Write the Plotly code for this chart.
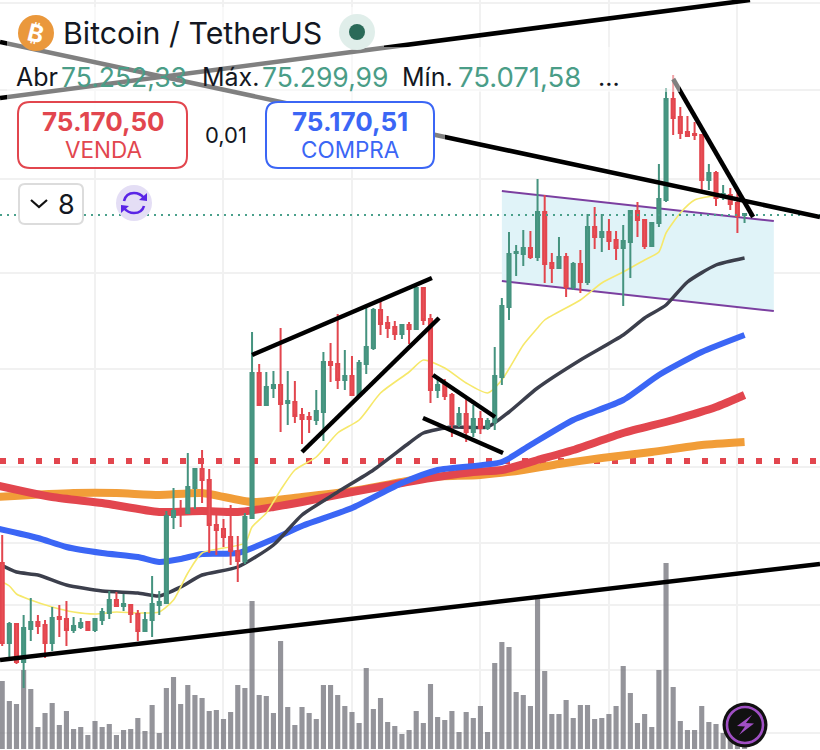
import plotly.graph_objects as go

# ---- data -------------------------------------------------------------
high = [71970,71100,71080,71170,71340,71170,71120,71250,71270,71310,
        71150,71140,71100,71140,71240,71410,71400,71380,71280,71220,
        71200,71560,71410,72210,72440,72320,72790,72630,72820,72630,
        72170,72130,72270,71960,72190,74000,73680,73600,73610,74040,
        73610,73510,73240,73200,73420,73800,73890,74180,73820,73760,
        73720,74250,74240,74320,74160,74110,74070,74100,74490,74440,
        74180,73520,73530,73390,73250,73360,73270,73210,73140,73850,
        74340,75000,74870,75020,75010,75530,75370,74790,74950,74790,
        74700,74820,75180,75250,75180,75130,75010,75070,75220,75300,
        75130,75090,75680,76440,76570,76250,76160,76100,75980,75680,
        75610,75470,75440,75420,75190]
low = [70860,70720,70680,70440,70910,70980,70740,70810,70950,70860,
       70990,71030,71020,71000,71070,71130,71250,71210,71090,70910,
       71010,70950,71170,71290,72030,72050,72180,72230,72290,71790,
       71770,71850,71670,71500,71680,72140,73260,73270,73340,73000,
       73070,73090,72880,72990,73070,72910,73500,73430,73420,73360,
       73360,73580,73820,73970,73940,73920,73930,73880,74020,74070,
       73290,73340,73320,72950,73050,72900,72950,72980,73020,73020,
       73470,74120,74560,74660,74730,74710,74490,74490,74640,74350,
       74420,74390,74470,74830,74800,74820,74720,74260,74540,74950,
       74830,74850,75050,75300,75970,75930,75950,75920,75410,75420,
       75260,75320,75220,74990,75090]
open_ = [71690,70890,71080,70700,71030,71100,71070,70890,71150,71130,
         71020,71050,71100,71020,71120,71190,71320,71260,71270,71180,
         71010,71120,71270,71290,72150,72210,72190,72440,72630,72520,
         72070,72030,71950,71810,71710,72140,73590,73270,73440,73470,
         73290,73300,73170,73150,73120,73200,73700,73680,73520,73560,
         73370,73680,73840,74220,74090,74050,73980,74070,74030,74440,
         74130,73420,73470,73370,73080,73180,73000,73130,73040,73100,
         73550,74250,74790,74780,74840,74750,75200,74690,74640,74750,
         74450,74680,74500,75050,74950,75000,74920,74840,74900,75210,
         75120,74860,75090,75320,76330,76150,76000,75980,75970,75520,
         75590,75360,75370,75290,75170]
close = [70890,71080,70700,71040,71100,71060,70890,71140,71130,71020,
         71060,71090,71020,71130,71200,71320,71260,71280,71180,71010,
         71120,71280,71300,72160,72210,72200,72450,72630,72520,72070,
         72020,71950,71810,71710,72150,73590,73270,73450,73470,73280,
         73310,73160,73130,73130,73210,73700,73670,73520,73560,73370,
         73690,73850,74220,74080,74040,73980,74070,74030,74440,74120,
         73420,73470,73360,73080,73180,73000,73130,73040,73110,73560,
         74260,74780,74800,74840,74750,75200,74680,74640,74750,74450,
         74680,74500,75050,74950,75000,74910,74840,74910,75210,75120,
         74860,75090,75330,76330,76140,75990,75960,75970,75520,75590,
         75340,75380,75280,75160,75180]
volume = [68,48,45,79,60,22,36,46,24,38,
          20,22,14,28,22,25,14,19,20,31,
          18,44,16,61,72,45,64,54,51,38,
          39,30,37,64,61,148,54,53,36,108,
          42,24,42,36,30,64,64,54,43,37,
          26,81,40,51,27,23,15,19,38,26,
          65,32,29,38,17,37,31,43,17,86,
          107,102,57,54,43,154,78,35,35,49,
          31,44,44,30,31,35,43,83,56,26,
          35,22,79,186,62,28,19,19,43,27,
          25,16,12,4,4]
bars = list(range(len(close)))

ma_yellow_x = [-1,1,2,4,7,10,13,16,19,22,24,26,28,34,35,37,39,41,44,47,50,53,57,59,62,65,68,70,73,75,76,81,84,87,90,92,93,95,97,100,104]
ma_yellow_y = [71540,71460,71380,71320,71250,71200,71180,71200,71190,71200,71320,71590,71790,71890,72050,72190,72420,72620,72750,72990,73120,73390,73600,73720,73640,73490,73390,73520,73870,74040,74120,74320,74490,74600,74720,74800,74990,75190,75320,75360,75300]
ma_dark_x = [-1,2,5,9,14,19,22,25,28,33,38,42,47,52,57,59,63,68,71,75,81,87,90,93,96,100,104]
ma_dark_y = [71700,71600,71570,71470,71410,71390,71360,71450,71570,71650,71870,72170,72400,72620,72890,72990,73050,73050,73200,73440,73720,73970,74140,74270,74500,74670,74740]
ma_blue_x = [-1,5,9,14,19,22,25,28,33,38,42,49,56,61,70,74,80,87,92,98,104]
ma_blue_y = [72040,71940,71850,71790,71750,71700,71730,71780,71790,71930,72060,72240,72490,72620,72700,72870,73120,73320,73570,73800,73970]
ma_red_x = [-1,7,14,22,28,33,38,42,49,56,60,66,70,75,80,87,94,100,104]
ma_red_y = [72470,72350,72290,72200,72210,72200,72250,72300,72400,72490,72540,72600,72620,72720,72820,72990,73120,73250,73370]
ma_orange_x = [-1,10,16,22,28,35,42,49,56,60,67,73,78,84,91,98,104]
ma_orange_y = [72350,72390,72390,72370,72390,72300,72350,72410,72500,72550,72570,72620,72680,72740,72800,72870,72900]

chan_x = [70.0,108.1,108.1,70.0,70.0]
chan_y = [75410,75110,74210,74510,75410]

trend_lines = {
    "a": ([-0.31,114.57],[76900,75150]),
    "b": ([-0.31,104.76],[76340,77320]),
    "base": ([-0.31,114.57],[70720,71680]),
    "wedge_top": ([35,60.2],[73770,74540]),
    "wedge_low": ([42,61.2],[72800,74140]),
    "pennant_top": ([60.35,69.04],[73570,73150]),
    "pennant_low": ([58.95,70.16],[73140,72790]),
    "spike": ([94,105.2],[76530,75150]),
}
support_price = 72710
last_price = 75170
x_ends = [-0.31,114.57]
grid_bars = [13,31,49,67,85,103]
grid_vol = [746,659,570,476,380,282,206,144,79,16]

GREEN = "#45937f"; RED = "#e2464e"; BLUE = "#3b66f5"
FONT = "Inter"

# ---- helpers ------------------------------------------------------------
W, H = 820, 750
def X(x): return x / W
def Y(y): return 1 - y / H
def pth(pts):
    out = []
    for p in pts:
        if isinstance(p, str): out.append(p)
        else: out.append(f"{X(p[0]):.5f},{Y(p[1]):.5f}")
    return " ".join(out)
def rr(x0,y0,x1,y1,r):
    return pth(["M",(x0+r,y0),"L",(x1-r,y0),"Q",(x1,y0),(x1,y0+r),"L",(x1,y1-r),"Q",(x1,y1),(x1-r,y1),
                "L",(x0+r,y1),"Q",(x0,y1),(x0,y1-r),"L",(x0,y0+r),"Q",(x0,y0),(x0+r,y0),"Z"])

fig = go.Figure()
# Layer order: y (volume) < y2 (channel, averages) < y3 (candles) < y4 (trend lines)
fig.add_trace(go.Bar(x=bars,y=volume,marker=dict(color="rgba(118,118,126,0.78)",line_width=0),xaxis="x",yaxis="y",width=0.72))
fig.add_trace(go.Scatter(x=chan_x,y=chan_y,mode="lines",fill="toself",fillcolor="#e0f3f8",line=dict(width=0),yaxis="y2"))
fig.add_trace(go.Scatter(x=chan_x[:2],y=chan_y[:2],mode="lines",line=dict(color="#7b3fa0",width=2),yaxis="y2"))
fig.add_trace(go.Scatter(x=chan_x[2:4],y=chan_y[2:4],mode="lines",line=dict(color="#7b3fa0",width=2),yaxis="y2"))
fig.add_trace(go.Scatter(x=x_ends,y=[support_price]*2,mode="lines",line=dict(color=RED,width=6,dash="6px,12px"),yaxis="y2"))
for xs,ys,c,w in [(ma_orange_x,ma_orange_y,"#f19d38",8),(ma_red_x,ma_red_y,"#e2464e",8),
                  (ma_blue_x,ma_blue_y,"#3b66f5",6),(ma_dark_x,ma_dark_y,"#3c3f4c",3.5),
                  (ma_yellow_x,ma_yellow_y,"#f6e86a",1.6)]:
    fig.add_trace(go.Scatter(x=xs,y=ys,mode="lines",line=dict(color=c,width=w,shape="spline",smoothing=0.6),yaxis="y2"))
fig.add_trace(go.Candlestick(x=bars,open=open_,high=high,low=low,close=close,yaxis="y3",whiskerwidth=0,
    increasing=dict(line=dict(color=GREEN,width=2),fillcolor="#4a9a85"),
    decreasing=dict(line=dict(color=RED,width=2),fillcolor="#ea5259")))
fig.add_trace(go.Scatter(x=x_ends,y=[last_price]*2,mode="lines",line=dict(color="#4aa08b",width=2,dash="2px,5px"),yaxis="y4"))
for xs,ys in trend_lines.values():
    fig.add_trace(go.Scatter(x=xs,y=ys,mode="lines",line=dict(color="#000000",width=4.5),yaxis="y4"))

shapes = []
def add_rect(x0,y0,x1,y1,fill):
    shapes.append(dict(type="rect",xref="paper",yref="paper",x0=X(x0),x1=X(x1),y0=Y(y1),y1=Y(y0),fillcolor=fill,line_width=0,layer="above"))
def add_circle(cx,cy,r,fill,line=None,lw=0):
    shapes.append(dict(type="circle",xref="paper",yref="paper",x0=X(cx-r),x1=X(cx+r),y0=Y(cy+r),y1=Y(cy-r),fillcolor=fill,
                       line=dict(color=line or "rgba(0,0,0,0)",width=lw),layer="above"))
def add_path(p,fill="rgba(0,0,0,0)",line=None,lw=0):
    shapes.append(dict(type="path",xref="paper",yref="paper",path=p,fillcolor=fill,line=dict(color=line or "rgba(0,0,0,0)",width=lw),layer="above"))

add_rect(7,7,384,47,"rgba(255,255,255,0.5)")
add_rect(7,47,680,92,"rgba(255,255,255,0.5)")
add_rect(7,92,445,170,"rgba(255,255,255,0.5)")
add_path(rr(18,102,187,168,12),"rgba(255,255,255,0.85)",RED,2)
add_path(rr(266,102,434,168,12),"#ffffff",BLUE,2)
add_path(rr(19,184,83,224,6),"#ffffff","#dcdcdc",2)
add_path(pth(["M",(31,200),"L",(39,207),"L",(47,200)]),line="#111111",lw=2.2)
add_circle(36,33,18,"#ea983c")
add_circle(357,32,18,"#e0eeea")
add_circle(357,32,8,"#2a6a58")
add_circle(134,203,18,"#e4def5")
add_path(pth(["M",(124,201),"Q",(126,193),(134,193),"Q",(140,193),(144,198)]),line="#5a25e6",lw=2.6)
add_path(pth(["M",(144,206),"Q",(142,213),(134,213),"Q",(128,213),(124,208)]),line="#5a25e6",lw=2.6)
add_path(pth(["M",(147,193),"L",(147,201),"L",(139,200),"Z"]),"#5a25e6")
add_path(pth(["M",(121,213),"L",(121,205),"L",(129,206),"Z"]),"#5a25e6")
add_circle(745,725,22.5,"#111111")
add_circle(745,725,18,"#111111","#a04fc4",2.6)
add_path(pth(["M",(752,715),"L",(737,726),"L",(745,726.5),"L",(739,735),"L",(754,723.5),"L",(746,723),"Z"]),"#a04fc4")

ann = []
def text(x,y,s,size,color="#131722",anchor="left",bold=False,angle=0):
    ann.append(dict(xref="paper",yref="paper",x=X(x),y=Y(y),text=f"<b>{s}</b>" if bold else s,showarrow=False,xanchor=anchor,yanchor="middle",
                    font=dict(family=FONT,size=size,color=color),borderpad=0,textangle=angle))
text(36,33,"₿",24,"#ffffff","center",True,14)
text(62,33,"Bitcoin / TetherUS",30.3)
TEAL = "#4a9d87"
text(15,77,"Abr",25); text(60,77,"75.252,33",26.5,TEAL)
text(201,77,"Máx.",25); text(261,77,"75.299,99",26.5,TEAL)
text(401,77,"Mín.",25); text(457,77,"75.071,58",27.5,TEAL)
text(597,77,"...",25)
text(103,121,"75.170,50",26,RED,"center",True)
text(103,150,"VENDA",22.5,RED,"center")
text(226,135,"0,01",22,"#131722","center")
text(350,121,"75.170,51",26,BLUE,"center",True)
text(350,150,"COMPRA",22.5,BLUE,"center")
text(66,204,"8",27,"#131722","center")

axis_off = dict(showticklabels=False,ticks="",showgrid=False,zeroline=False,showline=False)
price_range = [69820,77320]
fig.update_layout(
    width=W,height=H,margin=dict(l=0,r=0,t=0,b=0),paper_bgcolor="#ffffff",plot_bgcolor="#ffffff",
    showlegend=False,hovermode=False,boxgap=0.38,bargap=0.28,shapes=shapes,annotations=ann,
    xaxis=dict(range=x_ends,showticklabels=False,tickvals=grid_bars,ticks="",showgrid=True,gridcolor="#f1f1f1",gridwidth=2,zeroline=False,showline=False,rangeslider=dict(visible=False)),
    yaxis=dict(range=[-1,749],showticklabels=False,tickvals=grid_vol,ticks="",showgrid=True,gridcolor="#f1f1f1",gridwidth=2,zeroline=False,showline=False),
    yaxis2=dict(range=price_range,overlaying="y",**axis_off),
    yaxis3=dict(range=price_range,overlaying="y",**axis_off),
    yaxis4=dict(range=price_range,overlaying="y",**axis_off),
)
fig.write_html("out.html",config=dict(displayModeBar=False),post_script="document.body.style.margin='0';document.documentElement.style.overflow='hidden';")
